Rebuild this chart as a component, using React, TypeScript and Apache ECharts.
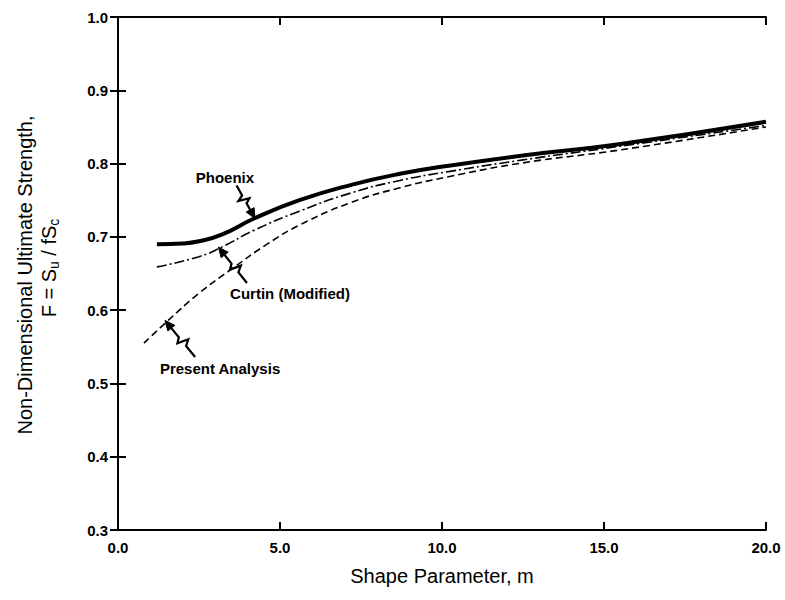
import React, { useEffect, useRef } from "react";
import * as echarts from "echarts";

const xTicks = [0, 5, 10, 15, 20];
const yTicks = [0.3, 0.4, 0.5, 0.6, 0.7, 0.8, 0.9, 1.0];

const phoenixM = [1.2, 2.0, 2.5, 3.2, 4.2, 5.6, 7.2, 8.7, 10.2, 12.5, 15.4, 20];
const phoenixF = [0.69, 0.691, 0.694, 0.703, 0.725, 0.75, 0.771, 0.786, 0.797, 0.811, 0.826, 0.857];

const curtinM = [1.2, 2.5, 3.2, 4.2, 5.6, 7.2, 8.7, 10.2, 12.5, 15.4, 20];
const curtinF = [0.659, 0.673, 0.686, 0.709, 0.735, 0.76, 0.777, 0.789, 0.805, 0.823, 0.852];

const presentM = [0.8, 1.5, 2.5, 3.6, 4.6, 5.6, 7.2, 8.7, 10.2, 12.5, 15.4, 20];
const presentF = [0.555, 0.584, 0.623, 0.659, 0.69, 0.716, 0.747, 0.767, 0.782, 0.801, 0.818, 0.85];

// annotation labels: [text, m, F] and arrows: tail [m,F] -> tip [m,F]
const labelTexts = ["Phoenix", "Curtin (Modified)", "Present Analysis"];
const labelPos = [[3.3, 0.781], [5.31, 0.623], [3.15, 0.521]];
const arrowTail = [[3.66, 0.77], [3.98, 0.637], [2.38, 0.536]];
const arrowTip = [[4.23, 0.725], [3.1, 0.686], [1.45, 0.586]];

const FONT = "'Liberation Sans', Arial, Helvetica, sans-serif";

const zip = (a: number[], b: number[]) => a.map((v, i) => [v, b[i]]);

export default function App() {
  const ref = useRef<HTMLDivElement>(null);
  useEffect(() => {
    if (!ref.current) return;
    const chart = echarts.init(ref.current, null, { renderer: "svg" });
    const axisLine = { show: true, lineStyle: { color: "#000", width: 2 } };
    const axisTick = { show: true, inside: true, length: 8, lineStyle: { color: "#000", width: 2 } };
    const lblStyle = { color: "#000", fontFamily: FONT, fontWeight: "bold" as const, fontSize: 15 };
    chart.setOption({
      animation: false,
      grid: { left: 118, right: 19, top: 17, bottom: 70 },
      xAxis: [
        {
          type: "value", min: xTicks[0], max: xTicks[xTicks.length - 1], interval: 5, position: "bottom",
          axisLine, axisTick, splitLine: { show: false },
          axisLabel: { ...lblStyle, margin: 10, formatter: (v: number) => v.toFixed(1) },
        },
        {
          type: "value", min: xTicks[0], max: xTicks[xTicks.length - 1], interval: 5, position: "top",
          axisLine, axisTick, splitLine: { show: false }, axisLabel: { show: false },
        },
      ],
      yAxis: [
        {
          type: "value", min: yTicks[0], max: yTicks[yTicks.length - 1], interval: 0.1, position: "left",
          axisLine, axisTick, splitLine: { show: false },
          axisLabel: { ...lblStyle, margin: 10, formatter: (v: number) => v.toFixed(1) },
        },
        {
          type: "value", min: yTicks[0], max: yTicks[yTicks.length - 1], interval: 0.1, position: "right",
          axisLine, axisTick, splitLine: { show: false }, axisLabel: { show: false },
        },
      ],
      series: [
        {
          name: "Phoenix", type: "line", data: zip(phoenixM, phoenixF), smooth: 0.5, showSymbol: false,
          lineStyle: { color: "#000", width: 4 },
        },
        {
          name: "Curtin (Modified)", type: "line", data: zip(curtinM, curtinF), smooth: 0.5, showSymbol: false,
          lineStyle: { color: "#000", width: 1.6, type: [10, 3, 2, 3] },
        },
        {
          name: "Present Analysis", type: "line", data: zip(presentM, presentF), smooth: 0.5, showSymbol: false,
          lineStyle: { color: "#000", width: 1.6, type: [7, 4] },
        },
      ],
    });

    const toPx = (p: number[]) => chart.convertToPixel({ xAxisIndex: 0, yAxisIndex: 0 }, p) as number[];
    const graphics: any[] = [];
    labelTexts.forEach((t, i) => {
      const p = toPx(labelPos[i]);
      graphics.push({
        type: "text", x: p[0], y: p[1],
        style: {
          text: t, font: `bold 15px ${FONT}`, fill: "#000",
          textAlign: "center", textVerticalAlign: "middle", align: "center", verticalAlign: "middle",
        },
      });
    });
    arrowTail.forEach((tailD, i) => {
      const a = toPx(tailD);
      const b = toPx(arrowTip[i]);
      const dx = b[0] - a[0], dy = b[1] - a[1];
      const L = Math.hypot(dx, dy);
      const ux = dx / L, uy = dy / L;
      const nx = -uy, ny = ux;
      const at = (t: number, s: number) => [a[0] + ux * L * t + nx * s, a[1] + uy * L * t + ny * s];
      const head = 10;
      const base = [b[0] - ux * head, b[1] - uy * head];
      graphics.push({
        type: "polyline",
        shape: { points: [at(0, 0), at(0.3, 0), at(0.38, 6), at(0.46, -5), at(0.54, 0), base] },
        style: { stroke: "#000", lineWidth: 2.2, fill: "none" },
      });
      graphics.push({
        type: "polygon",
        shape: { points: [b, [base[0] + nx * 4.5, base[1] + ny * 4.5], [base[0] - nx * 4.5, base[1] - ny * 4.5]] },
        style: { fill: "#000", stroke: "#000", lineWidth: 1 },
      });
    });
    // axis titles
    graphics.push({
      type: "text", x: 442, y: 576,
      style: {
        text: "Shape Parameter, m", font: `20px ${FONT}`, fill: "#000",
        textAlign: "center", textVerticalAlign: "middle", align: "center", verticalAlign: "middle",
      },
    });
    graphics.push({
      type: "text", x: 25, y: 275, rotation: Math.PI / 2,
      style: {
        text: "Non-Dimensional Ultimate Strength,", font: `20px ${FONT}`, fill: "#000",
        textAlign: "center", textVerticalAlign: "middle", align: "center", verticalAlign: "middle",
      },
    });
    graphics.push({
      type: "text", x: 50, y: 268, rotation: Math.PI / 2,
      style: {
        text: "{a|F = S}{s|u}{a| / fS}{s|c}",
        fill: "#000",
        textAlign: "center", textVerticalAlign: "middle", align: "center", verticalAlign: "middle",
        rich: {
          a: { fontFamily: FONT, fontSize: 20, lineHeight: 22, verticalAlign: "top", fill: "#000" },
          s: { fontFamily: FONT, fontSize: 14, lineHeight: 14, padding: [10, 0, 0, 0], verticalAlign: "bottom", fill: "#000" },
        },
      },
    });
    chart.setOption({ graphic: graphics });
    return () => chart.dispose();
  }, []);
  return <div ref={ref} style={{ width: 785, height: 600, position: "absolute", left: 0, top: 0 }} />;
}
